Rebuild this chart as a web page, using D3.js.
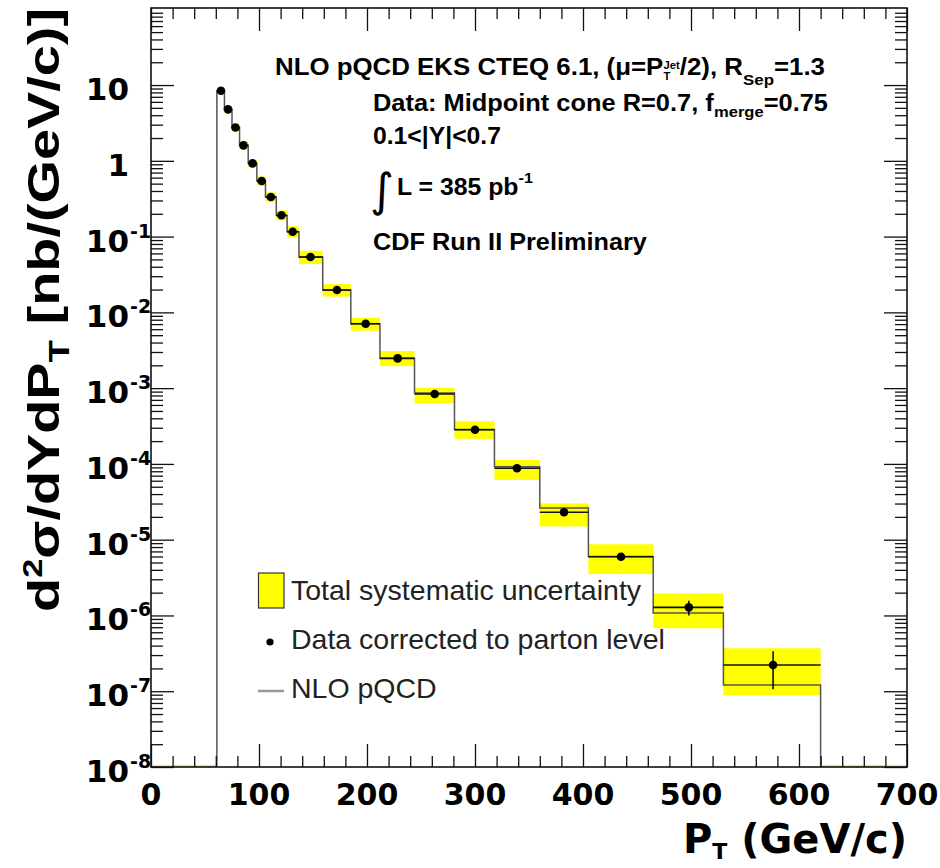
<!DOCTYPE html>
<html>
<head>
<meta charset="utf-8">
<script src="https://cdn.jsdelivr.net/npm/d3@7"></script>
<style>
  body { margin: 0; background: #fff; }
  svg { display: block; }
  .tick-label { font-family: "DejaVu Sans", sans-serif; font-weight: bold; fill: #000; }
  .note { font-family: "Liberation Sans", Arial, sans-serif; font-weight: bold; fill: #000; }
  .legend-text { font-family: "Liberation Sans", Arial, sans-serif; fill: #222; }
  .axis-title { font-family: "Liberation Sans", Arial, sans-serif; font-weight: bold; fill: #000; }
</style>
</head>
<body>
<svg id="chart"></svg>
<script>
// jet pT bins (GeV/c)
const binEdges = [61, 68, 75, 82, 90, 98, 106, 116, 126, 137, 159, 185, 212, 244, 281, 318, 360, 405, 465, 530, 620];
const ptCenters = [64.8, 71.3, 78.2, 85.6, 94, 102.5, 111, 120.8, 131.2, 147.7, 172.2, 198.8, 228.4, 262.7, 300, 338.9, 382.4, 435.2, 498, 576];

// measured cross section, nb/(GeV/c)
const dataXsec = [8.4, 4.78, 2.75, 1.6, 0.925, 0.541, 0.333, 0.191, 0.116, 0.0537, 0.0197, 0.00708, 0.00247, 8.36e-4, 2.82e-4, 8.75e-5, 2.30e-5, 5.96e-6, 1.28e-6, 2.22e-7];
// relative statistical error
const statErr = [0.004, 0.004, 0.005, 0.005, 0.006, 0.007, 0.008, 0.009, 0.01, 0.01, 0.012, 0.015, 0.02, 0.025, 0.03, 0.045, 0.07, 0.11, 0.22, 0.52];
// relative systematic uncertainty (up / down)
const sysUp = [0.10, 0.11, 0.11, 0.13, 0.13, 0.15, 0.15, 0.16, 0.18, 0.21, 0.20, 0.20, 0.25, 0.21, 0.30, 0.29, 0.31, 0.46, 0.53, 0.66];
const sysDown = [0.09, 0.10, 0.10, 0.11, 0.11, 0.13, 0.13, 0.14, 0.15, 0.19, 0.18, 0.19, 0.21, 0.25, 0.24, 0.30, 0.35, 0.41, 0.47, 0.60];
// NLO pQCD prediction
const nloXsec = [8.4, 4.8, 2.75, 1.6, 0.93, 0.54, 0.333, 0.19, 0.116, 0.054, 0.0197, 0.0071, 0.00248, 8.6e-4, 2.85e-4, 9.2e-5, 2.62e-5, 6.0e-6, 1.08e-6, 1.21e-7];

const xTickValues = [0, 100, 200, 300, 400, 500, 600, 700];
const yDecades = [-8, -7, -6, -5, -4, -3, -2, -1, 0, 1];

const legendLabels = ['Total systematic uncertainty', 'Data corrected to parton level', 'NLO pQCD'];

const config = {
  width: 940,
  height: 868,
  margin: {top: 8, right: 33, bottom: 101, left: 151},
  majorTick: 23,
  minorTick: 12
};

const innerW = config.width - config.margin.left - config.margin.right;
const innerH = config.height - config.margin.top - config.margin.bottom;

const svg = d3.select('#chart')
    .attr('width', config.width)
    .attr('height', config.height);

const x = d3.scaleLinear()
    .domain([0, 700])
    .range([config.margin.left, config.margin.left + innerW]);

const y = d3.scaleLog()
    .domain([1e-8, 104])
    .range([config.margin.top + innerH, config.margin.top]);

const x0 = x.range()[0], x1 = x.range()[1];
const yBot = y.range()[0], yTop = y.range()[1];

// minor tick values
const xMinor = d3.range(0, 701, 20).filter(v => v % 100 !== 0);
const yMajor = yDecades.map(e => Math.pow(10, e));
const yMinor = [];
yDecades.forEach(e => {
  for (let m = 2; m <= 9; m++) yMinor.push(m * Math.pow(10, e));
});

const bins = dataXsec.map((v, i) => ({
  lo: binEdges[i], hi: binEdges[i + 1], pt: ptCenters[i], v: v,
  up: v * (1 + sysUp[i]), down: v * (1 - sysDown[i]),
  eUp: v * (1 + statErr[i]), eDown: v * (1 - statErr[i]),
  nlo: nloXsec[i]
}));

// systematic bands
svg.append('g')
  .selectAll('rect')
  .data(bins)
  .join('rect')
    .attr('x', d => x(d.lo))
    .attr('y', d => y(d.up))
    .attr('width', d => x(d.hi) - x(d.lo))
    .attr('height', d => y(d.down) - y(d.up))
    .attr('fill', '#ffff00');

// faint band line at zero outside the measured range
svg.append('g')
  .selectAll('line')
  .data([[0, binEdges[0]], [binEdges[binEdges.length - 1], 700]])
  .join('line')
    .attr('x1', d => x(d[0]))
    .attr('x2', d => x(d[1]))
    .attr('y1', yBot - 1.2)
    .attr('y2', yBot - 1.2)
    .attr('stroke', '#e8e800')
    .attr('stroke-width', 1.2);

// NLO histogram (stepped)
const nloPts = [[binEdges[0], 1e-8]];
bins.forEach(d => {
  nloPts.push([d.lo, d.nlo]);
  nloPts.push([d.hi, d.nlo]);
});
nloPts.push([binEdges[binEdges.length - 1], 1e-8]);

const line = d3.line()
    .x(d => x(d[0]))
    .y(d => y(d[1]));

svg.append('path')
    .datum(nloPts)
    .attr('d', line)
    .attr('fill', 'none')
    .attr('stroke', '#555')
    .attr('stroke-width', 1.5);

// data: horizontal bin bars, stat error bars, markers
const dataG = svg.append('g');
dataG.selectAll('.xerr')
  .data(bins)
  .join('line')
    .attr('class', 'xerr')
    .attr('x1', d => x(d.lo))
    .attr('x2', d => x(d.hi))
    .attr('y1', d => y(d.v))
    .attr('y2', d => y(d.v))
    .attr('stroke', '#111')
    .attr('stroke-width', 1.6);

dataG.selectAll('.yerr')
  .data(bins)
  .join('line')
    .attr('class', 'yerr')
    .attr('x1', d => x(d.pt))
    .attr('x2', d => x(d.pt))
    .attr('y1', d => y(d.eUp))
    .attr('y2', d => y(d.eDown))
    .attr('stroke', '#111')
    .attr('stroke-width', 1.6);

dataG.selectAll('circle')
  .data(bins)
  .join('circle')
    .attr('cx', d => x(d.pt))
    .attr('cy', d => y(d.v))
    .attr('r', 4.3)
    .attr('fill', '#000');

// axes: ticks on all four sides, pointing inwards
function tickAxis(axis, transform, values, size) {
  const g = svg.append('g')
      .attr('transform', transform)
      .call(axis.tickValues(values).tickSize(-size).tickFormat(''));
  g.select('.domain').remove();
  g.selectAll('line').attr('stroke', '#111').attr('stroke-width', 1.3);
  return g;
}

tickAxis(d3.axisBottom(x), `translate(0,${yBot})`, xTickValues, config.majorTick);
tickAxis(d3.axisBottom(x), `translate(0,${yBot})`, xMinor, 11);
tickAxis(d3.axisTop(x), `translate(0,${yTop})`, xTickValues, config.majorTick);
tickAxis(d3.axisTop(x), `translate(0,${yTop})`, xMinor, 11);
tickAxis(d3.axisLeft(y), `translate(${x0},0)`, yMajor, config.majorTick);
tickAxis(d3.axisLeft(y), `translate(${x0},0)`, yMinor, config.minorTick);
tickAxis(d3.axisRight(y), `translate(${x1},0)`, yMajor, config.majorTick);
tickAxis(d3.axisRight(y), `translate(${x1},0)`, yMinor, config.minorTick);

// frame
svg.append('rect')
    .attr('x', x0)
    .attr('y', yTop)
    .attr('width', x1 - x0)
    .attr('height', yBot - yTop)
    .attr('fill', 'none')
    .attr('stroke', '#111')
    .attr('stroke-width', 1.6);

// x tick labels
svg.append('g')
  .selectAll('text')
  .data(xTickValues)
  .join('text')
    .attr('class', 'tick-label')
    .attr('x', d => x(d))
    .attr('y', yBot + 38)
    .attr('text-anchor', 'middle')
    .style('font-size', '30px')
    .text(d => d);

// y tick labels with exponent
const yLab = svg.append('g');
yDecades.forEach(e => {
  const ty = y(Math.pow(10, e));
  yLab.append('text')
      .attr('class', 'tick-label')
      .attr('x', 129)
      .attr('y', ty + 15)
      .attr('text-anchor', 'end')
      .style('font-size', '31px')
      .text(e === 0 ? '1' : '10');
  if (e < 0) {
    yLab.append('text')
        .attr('class', 'tick-label')
        .attr('x', 130)
        .attr('y', ty + 1)
        .style('font-size', '19px')
        .text('-' + (-e));
  }
});

// axis titles
svg.append('text')
    .attr('class', 'tick-label')
    .attr('x', x1)
    .attr('y', 853)
    .attr('text-anchor', 'end')
    .style('font-size', '40px')
    .call(t => {
      t.append('tspan').text('P');
      t.append('tspan').attr('dy', 6).style('font-size', '22px').text('T');
      t.append('tspan').attr('dy', -6).text(' (GeV/c)');
    });

svg.append('text')
    .attr('class', 'axis-title')
    .attr('transform', 'translate(59,310) rotate(-90)')
    .attr('text-anchor', 'middle')
    .attr('textLength', 604)
    .attr('lengthAdjust', 'spacingAndGlyphs')
    .style('font-size', '44px')
    .call(t => {
      t.append('tspan').text('d');
      t.append('tspan').attr('dy', -17).style('font-size', '27px').text('2');
      t.append('tspan').attr('dy', 17).text('σ/dYdP');
      t.append('tspan').attr('dy', 10).style('font-size', '29px').text('T');
      t.append('tspan').attr('dy', -10).text(' [nb/(GeV/c)]');
    });

// rich text line: pieces are measured, then placed as tspans of one text, fitted to a width
function richText(parent, px, py, parts, size, width) {
  const g = parent.append('g').attr('class', 'note');
  const placed = [];
  let cx = 0;
  parts.forEach(p => {
    const items = p.stack || [p];
    let adv = 0;
    items.forEach(it => {
      const fs = it.size || size;
      const tmp = g.append('text').style('font-size', fs + 'px').text(it.text);
      adv = Math.max(adv, tmp.node().getComputedTextLength());
      tmp.remove();
      placed.push({text: it.text, x: cx, y: it.dy || 0, size: fs});
    });
    cx += adv;
  });
  const t = g.append('text').style('font-size', size + 'px');
  placed.forEach(p => {
    t.append('tspan')
        .attr('x', p.x)
        .attr('y', p.y)
        .style('font-size', p.size + 'px')
        .text(p.text);
  });
  const k = width ? width / cx : 1;
  g.attr('transform', `translate(${px},${py}) scale(${k},1)`);
  return g;
}

const notes = svg.append('g');
richText(notes, 275, 75, [
  {text: 'NLO pQCD EKS CTEQ 6.1, (μ=P'},
  {stack: [{text: 'Jet', dy: -6.5, size: 10}, {text: 'T', dy: 5, size: 10}]},
  {text: '/2), R'},
  {text: 'Sep', dy: 9.5, size: 15},
  {text: '=1.3'}
], 23, 550);
richText(notes, 373, 110.7, [
  {text: 'Data: Midpoint cone R=0.7, f'},
  {text: 'merge', dy: 6.5, size: 15},
  {text: '=0.75'}
], 23, 455);
richText(notes, 373, 144, [{text: '0.1<|Y|<0.7'}], 23, 128);
richText(notes, 397, 195, [
  {text: 'L = 385 pb'},
  {text: '-1', dy: -12, size: 15}
], 23, 136);
notes.append('text')
    .attr('x', 370)
    .attr('y', 206)
    .style('font-family', '"DejaVu Sans", sans-serif')
    .style('font-size', '46px')
    .text('∫');
richText(notes, 373, 250, [{text: 'CDF Run II Preliminary'}], 23, 274);

// legend
const legend = svg.append('g');
legend.append('rect')
    .attr('x', 258.5)
    .attr('y', 573)
    .attr('width', 25.5)
    .attr('height', 35)
    .attr('fill', '#ffff00')
    .attr('stroke', '#333')
    .attr('stroke-width', 1.2);
legend.append('circle')
    .attr('cx', 270)
    .attr('cy', 642)
    .attr('r', 3.6)
    .attr('fill', '#000');
legend.append('line')
    .attr('x1', 258)
    .attr('x2', 284)
    .attr('y1', 691)
    .attr('y2', 691)
    .attr('stroke', '#999')
    .attr('stroke-width', 2.5);
legend.selectAll('text')
  .data(legendLabels)
  .join('text')
    .attr('class', 'legend-text')
    .attr('x', 291)
    .attr('y', (d, i) => 600 + i * 49)
    .style('font-size', '28.5px')
    .text(d => d);
</script>
</body>
</html>
